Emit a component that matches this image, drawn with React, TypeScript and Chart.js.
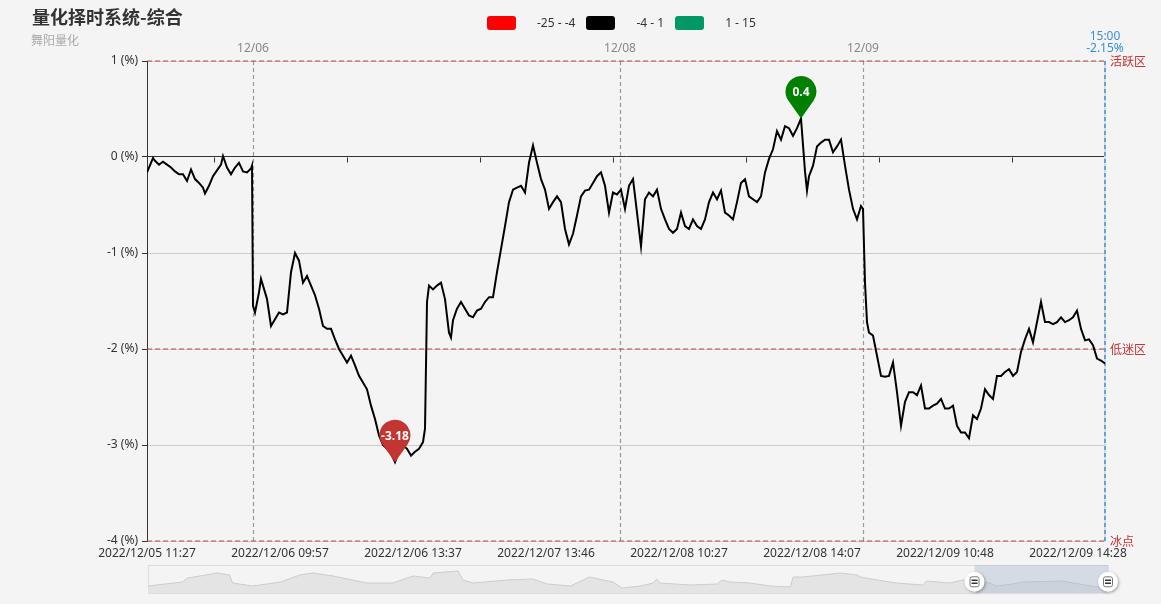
import React, { useEffect, useRef } from 'react';
import { Chart, registerables } from 'chart.js';

Chart.register(...registerables);

// ---------------- data ----------------
const TITLE = '量化择时系统-综合';
const SUBTITLE = '舞阳量化';

const LEGEND_LABELS = ['-25 - -4', '-4 - 1', '1 - 15'];
const LEGEND_COLORS = ['#ff0000', '#000000', '#009966'];

// time index (minutes-ish from the first shown point)
const T = [
  0, 4, 6, 8, 12, 16, 20, 24, 28, 32,
  36, 40, 44, 48, 52, 56, 58, 62, 66, 70,
  74, 76, 80, 84, 88, 92, 96, 100, 104, 105,
  106, 108, 112, 114, 116, 120, 124, 128, 132, 136,
  140, 144, 148, 152, 156, 160, 164, 168, 172, 176,
  180, 184, 188, 192, 196, 200, 204, 208, 212, 216,
  220, 224, 228, 232, 236, 240, 244, 248, 252, 256,
  260, 264, 268, 272, 276, 278, 280, 282, 286, 290,
  294, 298, 302, 304, 306, 310, 314, 318, 322, 326,
  330, 334, 338, 342, 346, 350, 354, 358, 362, 366,
  370, 374, 378, 382, 386, 390, 394, 398, 402, 406,
  410, 414, 418, 422, 426, 430, 434, 438, 442, 446,
  450, 454, 458, 462, 466, 470, 474, 478, 482, 486,
  490, 494, 498, 502, 506, 510, 514, 518, 522, 526,
  530, 534, 538, 542, 546, 550, 554, 558, 562, 566,
  570, 574, 578, 582, 586, 590, 594, 598, 602, 606,
  610, 614, 618, 622, 626, 630, 634, 638, 642, 646,
  650, 654, 658, 660, 662, 666, 670, 674, 678, 682,
  686, 690, 694, 698, 702, 706, 710, 714, 716, 718,
  720, 722, 726, 730, 734, 738, 742, 746, 750, 754,
  758, 762, 766, 770, 774, 778, 782, 786, 790, 794,
  798, 802, 806, 810, 814, 818, 822, 826, 830, 834,
  838, 842, 846, 850, 854, 858, 862, 866, 870, 874,
  878, 882, 886, 890, 894, 898, 902, 906, 910, 914,
  918, 922, 926, 930, 934, 938, 942, 946, 950, 954,
  958,
];

// value in %
const V = [
  -0.16, -0.06, -0.01, -0.04, -0.08, -0.05, -0.08, -0.11, -0.15, -0.18,
  -0.18, -0.25, -0.13, -0.23, -0.27, -0.32, -0.38, -0.30, -0.20, -0.14,
  -0.08, 0.01, -0.11, -0.18, -0.11, -0.06, -0.15, -0.16, -0.12, -0.09,
  -1.55, -1.62, -1.41, -1.27, -1.34, -1.48, -1.76, -1.69, -1.62, -1.64,
  -1.62, -1.20, -1.00, -1.08, -1.31, -1.24, -1.34, -1.44, -1.58, -1.76,
  -1.79, -1.79, -1.90, -2.00, -2.07, -2.14, -2.07, -2.17, -2.28, -2.35,
  -2.42, -2.59, -2.73, -2.90, -3.00, -3.04, -3.09, -3.18, -3.07, -3.00,
  -3.04, -3.11, -3.07, -3.04, -2.97, -2.83, -1.51, -1.34, -1.38, -1.34,
  -1.31, -1.48, -1.83, -1.88, -1.70, -1.58, -1.51, -1.58, -1.65, -1.67,
  -1.60, -1.58, -1.51, -1.46, -1.46, -1.20, -0.96, -0.72, -0.47, -0.34,
  -0.32, -0.30, -0.37, -0.06, 0.12, -0.06, -0.23, -0.34, -0.54, -0.47,
  -0.41, -0.47, -0.75, -0.91, -0.80, -0.61, -0.41, -0.35, -0.34, -0.27,
  -0.20, -0.16, -0.30, -0.58, -0.37, -0.39, -0.34, -0.54, -0.30, -0.23,
  -0.58, -0.93, -0.44, -0.37, -0.41, -0.34, -0.54, -0.65, -0.75, -0.79,
  -0.75, -0.58, -0.72, -0.75, -0.65, -0.72, -0.75, -0.65, -0.47, -0.37,
  -0.44, -0.35, -0.58, -0.61, -0.65, -0.47, -0.27, -0.23, -0.41, -0.44,
  -0.47, -0.41, -0.16, -0.02, 0.08, 0.27, 0.18, 0.32, 0.30, 0.22,
  0.30, 0.40, -0.15, -0.35, -0.20, -0.09, 0.11, 0.15, 0.18, 0.18,
  0.05, 0.11, 0.18, -0.09, -0.34, -0.54, -0.65, -0.51, -0.54, -1.31,
  -1.72, -1.83, -1.86, -2.07, -2.28, -2.29, -2.28, -2.14, -2.45, -2.80,
  -2.55, -2.45, -2.45, -2.48, -2.38, -2.62, -2.62, -2.59, -2.57, -2.52,
  -2.62, -2.62, -2.59, -2.80, -2.87, -2.87, -2.93, -2.69, -2.73, -2.62,
  -2.42, -2.48, -2.52, -2.28, -2.28, -2.24, -2.21, -2.28, -2.24, -2.03,
  -1.90, -1.79, -1.93, -1.72, -1.51, -1.72, -1.72, -1.74, -1.72, -1.67,
  -1.72, -1.70, -1.67, -1.60, -1.79, -1.91, -1.90, -1.96, -2.10, -2.12,
  -2.15,
];

const X_TICK_T = [0, 133, 266, 399, 532, 665, 798, 931];
const X_TICK_LABELS = [
  '2022/12/05 11:27',
  '2022/12/06 09:57',
  '2022/12/06 13:37',
  '2022/12/07 13:46',
  '2022/12/08 10:27',
  '2022/12/08 14:07',
  '2022/12/09 10:48',
  '2022/12/09 14:28',
];
const DAY_T = [106, 473, 716];
const DAY_LABELS = ['12/06', '12/08', '12/09'];
const END_T = 958;
const END_TIME = '15:00';

const Y_MIN = -4;
const Y_MAX = 1;
const MARK_VALUES = [1, -2, -4];
const MARK_NAMES = ['活跃区', '低迷区', '冰点'];

// overview (data zoom) shadow, position in % of the slider, level in shadow units
const OV_T = [
  0, 3.6, 4.1, 5.4, 7.2, 8.5, 8.8, 10.9, 13.8, 15.8,
  17.2, 19.3, 20.3, 22.8, 25.5, 27.6, 29.4, 29.7, 32.3, 32.8,
  33.9, 37.4, 40.1, 41.6, 44.0, 46.0, 48.4, 49.4, 51.3, 52.6,
  53.0, 53.3, 56.5, 59.3, 59.8, 60.6, 62.7, 64.8, 66.9, 67.2,
  68.2, 72.1, 73.9, 74.2, 76.6, 78.0, 80.7, 81.1, 83.5, 84.9,
  86.1, 87.7, 88.4, 90.1, 91.1, 95.3, 96.4, 98.9, 100,
];
const OV_V = [
  7, 11, 15, 17, 20, 18, 10, 7, 11, 18,
  20, 17, 15, 10, 10, 17, 15, 20, 22, 13,
  10, 13, 14, 9, 7, 16, 11, 5, 7, 10,
  14, 10, 8, 9, 13, 11, 10, 7, 6, 16,
  16, 20, 18, 16, 12, 10, 8, 12, 10, 13,
  13, 10, 7, 9, 11, 12, 10, 6, 8,
];
const OV_WINDOW = [86.1, 100];

// ---------------- styles ----------------
const BG = '#f4f4f4';
const FONT = '"Noto Sans", "Noto Sans CJK SC", sans-serif';
const CJK = '"Noto Sans CJK SC", "Noto Sans", sans-serif';
const RED = '#c23531';
const GREEN = '#008000';
const BLUE = '#3a8ee6';

function drawPin(ctx: CanvasRenderingContext2D, x: number, tipY: number, color: string, text: string) {
  const r = 15.5;
  const d = 27;
  const cy = tipY - d;
  const a = Math.acos(r / d);
  ctx.save();
  ctx.beginPath();
  ctx.moveTo(x, tipY);
  ctx.arc(x, cy, r, Math.PI / 2 + a, Math.PI / 2 - a + Math.PI * 2);
  ctx.closePath();
  ctx.fillStyle = color;
  ctx.fill();
  ctx.fillStyle = '#fff';
  ctx.font = `bold 12px ${FONT}`;
  ctx.textAlign = 'center';
  ctx.textBaseline = 'middle';
  ctx.fillText(text, x, cy + 1);
  ctx.restore();
}

const decorPlugin = {
  id: 'decor',
  beforeDatasetsDraw(chart: any) {
    const { ctx, chartArea } = chart;
    const { left, right, top, bottom } = chartArea;
    const x2 = chart.scales.x2;
    const y = chart.scales.y;
    ctx.save();
    // right edge
    ctx.strokeStyle = '#dcdcdc';
    ctx.lineWidth = 2;
    ctx.beginPath();
    ctx.moveTo(right, top);
    ctx.lineTo(right, bottom);
    ctx.stroke();
    // day separators
    ctx.setLineDash([4, 3]);
    ctx.lineWidth = 1.2;
    ctx.strokeStyle = '#999';
    DAY_T.forEach((t) => {
      const px = Math.round(x2.getPixelForValue(t)) + 0.5;
      ctx.beginPath();
      ctx.moveTo(px, top);
      ctx.lineTo(px, bottom);
      ctx.stroke();
    });
    // end line
    ctx.strokeStyle = BLUE;
    ctx.lineWidth = 1.5;
    const ex = x2.getPixelForValue(END_T);
    ctx.beginPath();
    ctx.moveTo(ex, top);
    ctx.lineTo(ex, bottom);
    ctx.stroke();
    // mark lines
    ctx.setLineDash([5, 3]);
    ctx.strokeStyle = 'rgba(194,53,49,0.6)';
    ctx.lineWidth = 1.5;
    MARK_VALUES.forEach((v) => {
      const py = y.getPixelForValue(v);
      ctx.beginPath();
      ctx.moveTo(left, py);
      ctx.lineTo(right, py);
      ctx.stroke();
    });
    // zero-line ticks between bottom labels
    ctx.setLineDash([]);
    ctx.strokeStyle = '#333';
    ctx.lineWidth = 1;
    const x = chart.scales.x;
    const y0 = Math.round(y.getPixelForValue(0)) + 0.5;
    for (let i = 0; i < X_TICK_T.length - 1; i++) {
      const px = Math.round(x.getPixelForValue((X_TICK_T[i] + X_TICK_T[i + 1]) / 2)) + 0.5;
      ctx.beginPath();
      ctx.moveTo(px, y0);
      ctx.lineTo(px, y0 + 5);
      ctx.stroke();
    }
    ctx.restore();
  },
  afterDatasetsDraw(chart: any) {
    const { ctx } = chart;
    const x = chart.scales.x;
    const y = chart.scales.y;
    let iMin = 0;
    let iMax = 0;
    V.forEach((v, i) => {
      if (v < V[iMin]) iMin = i;
      if (v > V[iMax]) iMax = i;
    });
    const fmt = (v: number) => String(Number(v.toFixed(2)));
    drawPin(ctx, x.getPixelForValue(T[iMin]), y.getPixelForValue(V[iMin]), RED, fmt(V[iMin]));
    drawPin(ctx, x.getPixelForValue(T[iMax]), y.getPixelForValue(V[iMax]), GREEN, fmt(V[iMax]));
  },
  afterDraw(chart: any) {
    const { ctx, chartArea } = chart;
    const y = chart.scales.y;
    ctx.save();
    ctx.fillStyle = RED;
    ctx.font = `12px ${CJK}`;
    ctx.textAlign = 'left';
    ctx.textBaseline = 'middle';
    MARK_VALUES.forEach((v, i) => {
      ctx.fillText(MARK_NAMES[i], chartArea.right + 5, y.getPixelForValue(v));
    });
    ctx.restore();
  },
};

const sliderPlugin = {
  id: 'slider',
  beforeDatasetsDraw(chart: any) {
    const { ctx, chartArea } = chart;
    const { left, right, top, bottom } = chartArea;
    ctx.save();
    ctx.strokeStyle = '#dddddd';
    ctx.lineWidth = 1;
    ctx.strokeRect(left + 0.5, top + 0.5, right - left, bottom - top);
    ctx.restore();
  },
  afterDatasetsDraw(chart: any) {
    const { ctx, chartArea } = chart;
    const { top, bottom } = chartArea;
    const x = chart.scales.x;
    const x0 = x.getPixelForValue(OV_WINDOW[0]);
    const x1 = x.getPixelForValue(OV_WINDOW[1]);
    ctx.save();
    ctx.fillStyle = 'rgba(167,183,204,0.4)';
    ctx.fillRect(x0, top, x1 - x0, bottom - top);
    const cy = top + (bottom - top) * 0.6;
    [x0, x1].forEach((hx) => {
      ctx.strokeStyle = '#fff';
      ctx.lineWidth = 1.5;
      ctx.beginPath();
      ctx.moveTo(hx, cy);
      ctx.lineTo(hx, bottom);
      ctx.stroke();
      ctx.save();
      ctx.shadowColor = 'rgba(0,0,0,0.35)';
      ctx.shadowBlur = 3;
      ctx.shadowOffsetX = 1;
      ctx.shadowOffsetY = 1;
      ctx.fillStyle = '#fff';
      ctx.beginPath();
      ctx.arc(hx, cy, 10, 0, Math.PI * 2);
      ctx.fill();
      ctx.restore();
      ctx.strokeStyle = '#777';
      ctx.lineWidth = 1;
      ctx.beginPath();
      (ctx as any).roundRect ? (ctx as any).roundRect(hx - 4.5, cy - 5, 9, 10, 2) : ctx.rect(hx - 4.5, cy - 5, 9, 10);
      ctx.stroke();
      ctx.strokeStyle = '#333';
      ctx.lineWidth = 1.5;
      ctx.beginPath();
      ctx.moveTo(hx - 3, cy - 1.5);
      ctx.lineTo(hx + 3, cy - 1.5);
      ctx.moveTo(hx - 3, cy + 1.5);
      ctx.lineTo(hx + 3, cy + 1.5);
      ctx.stroke();
    });
    ctx.restore();
  },
};

export default function App() {
  const mainRef = useRef<HTMLCanvasElement>(null);
  const ovRef = useRef<HTMLCanvasElement>(null);

  useEffect(() => {
    document.body.style.margin = '0';
    document.body.style.background = BG;
    Chart.defaults.font.family = FONT;

    const main = new Chart(mainRef.current as HTMLCanvasElement, {
      type: 'line',
      data: {
        datasets: [
          {
            data: T.map((t, i) => ({ x: t, y: V[i] })),
            borderColor: '#000',
            borderWidth: 2,
            pointRadius: 0,
            tension: 0,
            fill: false,
          },
        ],
      },
      options: {
        animation: false,
        responsive: false,
        devicePixelRatio: 1,
        layout: { padding: { left: 0, right: 56, top: 0, bottom: 0 } },
        plugins: { legend: { display: false }, tooltip: { enabled: false }, title: { display: false } },
        scales: {
          x: {
            type: 'linear',
            position: 'bottom',
            min: 0,
            max: END_T,
            afterBuildTicks: (s: any) => {
              s.ticks = X_TICK_T.map((v) => ({ value: v }));
            },
            afterFit: (s: any) => {
              s.height = 63;
            },
            ticks: {
              autoSkip: false,
              maxRotation: 0,
              padding: 5,
              color: '#333',
              font: { size: 12 },
              callback: (_v: any, i: number) => X_TICK_LABELS[i],
            },
            grid: { display: false, drawTicks: false },
            border: { display: false },
          },
          x2: {
            type: 'linear',
            position: 'top',
            min: 0,
            max: END_T,
            afterBuildTicks: (s: any) => {
              s.ticks = [...DAY_T, END_T].map((v) => ({ value: v }));
            },
            afterFit: (s: any) => {
              s.height = 61;
            },
            ticks: {
              autoSkip: false,
              maxRotation: 0,
              padding: 6,
              font: { size: 12, lineHeight: 1 },
              color: (c: any) => (c.index === DAY_T.length ? BLUE : '#888'),
              callback: (_v: any, i: number) =>
                i < DAY_LABELS.length ? DAY_LABELS[i] : [END_TIME, `${V[V.length - 1].toFixed(2)}%`],
            },
            grid: { display: false, drawTicks: false },
            border: { display: false },
          },
          y: {
            type: 'linear',
            min: Y_MIN,
            max: Y_MAX,
            afterFit: (s: any) => {
              s.width = 147;
            },
            ticks: {
              stepSize: 1,
              padding: 4,
              color: '#333',
              font: { size: 12 },
              callback: (v: any) => `${v} (%)`,
            },
            grid: {
              color: (c: any) => (c.tick && c.tick.value === 0 ? '#333' : '#cccccc'),
              tickColor: '#333',
              tickLength: 5,
              lineWidth: 1,
            },
            border: { display: true, color: '#333', width: 1 },
          },
        },
      } as any,
      plugins: [decorPlugin],
    });

    const ov = new Chart(ovRef.current as HTMLCanvasElement, {
      type: 'line',
      data: {
        datasets: [
          {
            data: OV_T.map((t, i) => ({ x: t, y: OV_V[i] })),
            borderColor: '#cccccc',
            borderWidth: 1,
            backgroundColor: '#e4e4e4',
            fill: 'origin',
            pointRadius: 0,
            tension: 0,
          },
        ],
      },
      options: {
        animation: false,
        responsive: false,
        devicePixelRatio: 1,
        layout: { padding: { left: 148, right: 53, top: 5, bottom: 11 } },
        plugins: { legend: { display: false }, tooltip: { enabled: false } },
        scales: {
          x: { type: 'linear', min: 0, max: 100, display: false },
          y: { type: 'linear', min: 0, max: 28, display: false },
        },
      } as any,
      plugins: [sliderPlugin],
    });

    return () => {
      main.destroy();
      ov.destroy();
    };
  }, []);

  return (
    <div style={{ position: 'relative', width: 1161, height: 604, background: BG, overflow: 'hidden' }}>
      <canvas ref={mainRef} width={1161} height={604} style={{ position: 'absolute', left: 0, top: 0 }} />
      <canvas ref={ovRef} width={1161} height={44} style={{ position: 'absolute', left: 0, top: 560 }} />
      <div
        style={{
          position: 'absolute',
          left: 32,
          top: 6,
          fontFamily: CJK,
          fontWeight: 'bold',
          fontSize: 18,
          lineHeight: '20px',
          color: '#333',
          whiteSpace: 'nowrap',
        }}
      >
        {TITLE}
      </div>
      <div
        style={{
          position: 'absolute',
          left: 31,
          top: 33,
          fontFamily: CJK,
          fontSize: 12,
          lineHeight: '13px',
          color: '#aaa',
          whiteSpace: 'nowrap',
        }}
      >
        {SUBTITLE}
      </div>
      <div
        style={{
          position: 'absolute',
          left: 487,
          top: 16,
          display: 'flex',
          alignItems: 'center',
          fontFamily: FONT,
          fontSize: 12,
          color: '#333',
          whiteSpace: 'nowrap',
        }}
      >
        {LEGEND_LABELS.map((l, i) => (
          <React.Fragment key={l}>
            <div style={{ width: 29, height: 14, borderRadius: 3, background: LEGEND_COLORS[i], marginRight: 21 }} />
            <div style={{ lineHeight: '14px', marginRight: 11 }}>{l}</div>
          </React.Fragment>
        ))}
      </div>
    </div>
  );
}
